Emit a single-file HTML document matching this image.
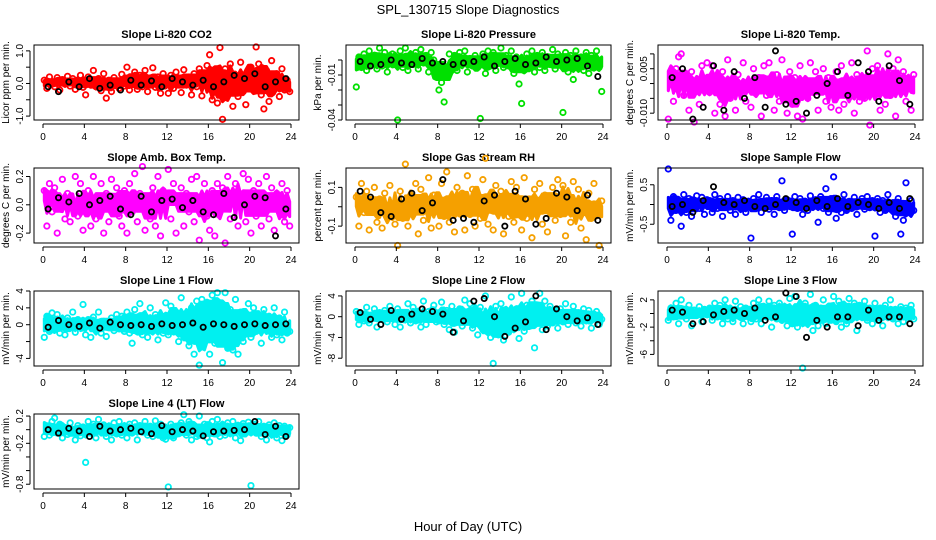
<!DOCTYPE html>
<html><head><meta charset="utf-8"><style>
body{margin:0;background:#fff;}
svg{display:block;font-family:"Liberation Sans",sans-serif;}
</style></head><body>
<svg id="chart" width="936" height="540" viewBox="0 0 936 540" xmlns="http://www.w3.org/2000/svg">
<rect width="936" height="540" fill="#fff"/>
<text x="468" y="14" text-anchor="middle" font-size="13">SPL_130715  Slope Diagnostics</text>
<text x="468" y="531" text-anchor="middle" font-size="13">Hour of Day (UTC)</text>
</svg>
<script>
const hourTicks = [0,4,8,12,16,20,24];
const titles = ["Slope Li-820 CO2","Slope Li-820 Pressure","Slope Li-820 Temp.","Slope Amb. Box Temp.","Slope Gas Stream RH","Slope Sample Flow","Slope Line 1 Flow","Slope Line 2 Flow","Slope Line 3 Flow","Slope Line 4 (LT) Flow"];
const yLabels = ["Licor ppm per min.","kPa per min.","degrees C per min.","degrees C per min.","percent per min.","mV/min per min.","mV/min per min.","mV/min per min.","mV/min per min.","mV/min per min."];
const colors = ["#ff0000","#00e000","#ff00ff","#ff00ff","#f5a000","#0000ff","#00f0f0","#00f0f0","#00f0f0","#00f0f0"];
const yMin = [-1.12,-0.04,-0.0123,-0.27,-0.187,-0.975,-4.9,-9.5,-7.7,-0.87];
const yMax = [1.18,0.01,0.013,0.26,0.2,0.925,4.0,4.95,3.3,0.23];
const scales = [0.01,0.001,0.0001,0.01,0.01,0.01,0.1,0.1,0.1,0.01];
const bandWidth = [0.2,0.2,0.15,0.12,0.15,0.2,0.2,0.2,0.2,0.2];
const yTickVals = [[-1,-0.5,0,0.5,1],[0,-0.01,-0.02,-0.03,-0.04],[0.01,0.005,0,-0.005,-0.01],[0.2,0,-0.2],[0.1,0,-0.1],[0.5,0,-0.5],[4,2,0,-2,-4],[4,0,-4,-8],[2,0,-2,-4,-6],[0.2,0,-0.2,-0.4,-0.6,-0.8]];
const yTickLabels = [["-1.0","","0.0","","1.0"],["","-0.01","","","-0.04"],["","0.005","","","-0.010"],["0.2","0.0","-0.2"],["0.1","","-0.1"],["0.5","","-0.5"],["4","2","0","","-4"],["4","0","-4","-8"],["2","","-2","","-6"],["0.2","","-0.2","","","-0.8"]];
const co2Values = [10,-15,20,5,-10,18,-20,12,0,22,-8,15,-18,8,25,-12,-35,20,-5,40,-10,15,-22,30,-45,10,-25,18,5,-15,28,-8,50,-20,12,35,-18,25,-10,40,-25,15,48,-12,20,-30,30,5,-30,25,-15,35,10,-28,42,-5,20,-35,30,-10,45,-38,15,55,88,-50,30,-60,110,-110,45,-30,60,-70,20,-40,65,-25,-65,30,50,-20,112,60,-35,-78,40,-55,70,-15,30,-40,45,-20,10,-25];
const co2Black = [-10,-25,5,-10,15,-15,-5,-20,10,-5,8,-10,15,5,-5,10,-10,5,25,15,30,-10,5,15];
const pressureValues = [-18,2,-5,4,-7,6,-2,3,-6,8,-4,5,-8,1,4,-3,-40,6,-5,8,-7,2,-3,5,-6,7,-2,3,-8,5,0,-4,-20,-15,-28,-10,4,-6,3,-7,5,-2,6,-8,1,-4,3,-5,-39,4,-9,6,-3,5,-7,2,8,-5,3,-4,6,-9,2,-16,-29,-6,4,-2,6,-8,3,-5,5,-7,2,-3,7,-6,4,-1,-35,5,-8,3,-13,6,-4,2,-7,5,-9,3,-2,6,-5,-21];
const pressureBlack = [-1,-4,-3,0,-2,-3,1,-2,-1,-3,-2,-1,2,-4,-1,1,-3,-2,2,-1,0,1,-4,-11];
const tempValues = [-120,30,-60,50,90,100,-40,20,-90,40,-130,10,-70,60,-20,70,-30,60,-100,20,-70,40,-110,80,-50,10,-90,30,-20,70,-60,0,-80,50,-30,20,-110,60,-40,70,-10,-90,30,-60,80,-20,-100,40,-70,20,-110,60,-120,10,-50,70,-30,40,-90,-10,50,-60,20,-80,-20,40,-90,60,-70,10,-40,70,-100,30,-60,20,-50,110,-140,50,-30,60,-90,20,-70,100,-40,50,-110,80,-20,40,-60,10,-90,30];
const tempBlack = [20,50,-120,-80,60,-90,40,-50,20,-80,110,-70,-60,-100,-40,0,40,-40,70,40,-60,60,10,-70];
const ambValues = [10,-15,15,-5,12,-20,5,18,-10,8,-12,0,20,-8,15,-18,-5,10,-15,20,-10,5,15,-20,8,-12,18,-5,12,-8,-15,10,-20,15,-5,22,-12,8,27,-18,5,-10,12,-15,20,-22,10,0,25,-10,15,-20,5,12,-15,8,-5,18,-12,20,-25,6,15,-8,-18,10,-22,15,-5,12,-27,20,-10,8,15,-15,5,22,-12,18,-20,10,-8,15,-15,5,20,-10,12,-18,8,-5,15,-12,10,-15];
const ambBlack = [-3,5,2,8,0,3,6,-3,-7,6,-5,3,4,-2,3,-5,-7,8,-9,0,6,5,-22,-3];
const rhValues = [5,-10,12,-3,8,-12,0,10,-8,4,-11,7,-5,11,-2,-9,-20,8,-6,22,-10,5,-3,12,-14,9,-7,3,15,-11,6,-1,-10,12,-5,18,-8,4,-13,10,-3,7,-12,16,-4,9,-10,2,-6,14,25,-9,5,-12,11,-2,8,-14,6,-5,13,-8,10,-3,-12,15,-6,4,-16,9,-2,12,-9,6,-13,3,10,-7,14,-4,11,-15,5,-8,13,-3,9,-11,2,-17,7,-6,12,-4,-20,3];
const rhBlack = [8,5,-3,-5,4,7,-2,2,14,-7,-6,-8,3,6,-10,8,4,-9,-6,7,5,-2,6,-7];
const sampleValues = [90,-40,20,-15,10,-55,25,-20,15,-30,5,22,-10,18,-25,12,10,-20,25,-10,15,-30,5,20,-15,10,-25,18,-5,12,-20,8,-85,15,-10,25,-20,5,18,-12,10,-25,20,-8,60,-15,12,-5,-75,20,-10,15,-25,8,-15,22,-5,12,-45,20,-10,40,-20,15,70,-35,10,-20,25,-15,8,-10,18,-25,5,15,-12,20,-8,10,-80,15,-20,10,-15,25,-10,5,-30,15,-75,-40,55,-20,10,-15];
const sampleBlack = [-5,0,-20,10,45,5,0,10,-5,-10,0,15,5,-10,10,-5,15,-5,5,0,-10,5,-10,15];
const line1Values = [-15,10,-8,14,-5,12,-10,3,-12,8,-4,15,-9,6,-2,24,-12,6,-15,9,-3,15,-10,4,-14,2,8,-7,12,-5,10,-8,15,-10,-22,18,-8,25,-12,6,-15,20,-5,12,-18,9,-10,26,-12,22,-8,15,-20,32,-15,10,-25,20,-35,28,-48,30,-18,25,-35,35,-22,38,12,-45,38,-28,18,-30,30,-35,15,-20,-10,25,-15,20,-8,12,-22,18,-5,10,-15,20,-12,8,-18,15,-10,-8];
const line1Black = [-3,5,0,-2,2,-4,3,0,-1,0,-2,1,-1,0,2,-3,1,0,-2,0,1,-1,0,1];
const line2Values = [10,-15,5,-8,18,-12,3,15,-20,8,-5,12,-10,20,-2,-15,15,-20,8,-5,25,-12,18,-8,5,-20,30,-15,10,-5,22,-10,-8,28,-15,12,-25,20,-30,8,15,-18,32,-10,25,-22,10,-35,18,-25,40,-10,-40,-90,20,-35,25,-45,10,-30,38,-20,15,-42,45,-28,22,-15,30,-60,10,45,-25,30,-18,20,-12,8,-22,15,-10,25,-15,5,20,-12,8,-18,15,-8,12,-22,5,10,-15,-5];
const line2Black = [8,-5,-15,12,-5,5,15,10,5,-30,-8,30,35,0,-38,-22,-10,40,-25,15,0,-8,-2,-15];
const line3Values = [-10,8,-5,15,-15,20,3,-8,12,-18,5,-3,10,-12,6,-2,8,-10,15,-5,12,-15,20,-8,5,-12,18,-3,10,-15,8,-5,-12,15,-8,20,-15,10,-5,18,-20,12,-8,15,-10,5,-18,22,-15,25,-20,10,-80,15,-10,28,-25,12,-18,8,20,-15,5,-10,25,-12,18,-20,10,-15,22,-8,15,-25,12,-5,18,-10,8,-15,15,-10,8,-18,12,-5,20,-8,5,-15,10,-12,8,-5,12,-8];
const line3Black = [5,2,-15,-12,-2,3,5,0,8,-10,-5,30,25,-35,-10,-20,-5,-5,-18,5,-10,-5,-5,-15];
const line4Values = [-10,5,-8,12,17,-5,8,-12,3,-7,10,-3,-15,6,-9,4,-48,12,-5,8,-12,15,-3,7,-10,5,-15,10,-6,12,-8,3,-12,8,-5,10,-15,6,-3,12,-8,5,-10,13,-6,8,-12,-14,-84,8,-12,5,-6,10,22,-8,12,-15,5,-10,20,-3,8,-12,-18,12,-6,15,-10,5,-8,10,-3,12,-12,6,-16,9,-5,11,-82,8,-5,12,-10,5,-15,7,-3,10,-12,6,-16,5,-8,3];
const line4Black = [0,-5,2,-2,-10,5,-2,0,2,-3,-6,6,-3,0,-2,-9,-3,-2,-1,0,12,-7,5,-10];

const seriesValues = [co2Values,pressureValues,tempValues,ambValues,rhValues,sampleValues,line1Values,line2Values,line3Values,line4Values];
const seriesBlack = [co2Black,pressureBlack,tempBlack,ambBlack,rhBlack,sampleBlack,line1Black,line2Black,line3Black,line4Black];
const panelNames = ["co2","pressure","licor-temp","amb-box-temp","gas-rh","sample-flow","line1-flow","line2-flow","line3-flow","line4-flow"];

const NS = "http://www.w3.org/2000/svg";
const svg = document.getElementById("chart");
function mk(tag, attrs, parent){
  const e = document.createElementNS(NS, tag);
  for (const k in attrs) e.setAttribute(k, attrs[k]);
  (parent||svg).appendChild(e);
  return e;
}
function quant(arr, q){
  const s = arr.slice().sort((a,b)=>a-b);
  const pos = (s.length-1)*q, lo = Math.floor(pos), hi = Math.ceil(pos);
  return s[lo] + (s[hi]-s[lo])*(pos-lo);
}

for (let p = 0; p < 10; p++) {
  const col = p % 3, row = Math.floor(p / 3);
  const L = 34 + 312*col, R = 299 + 312*col, T = 45 + 123*row, B = 120 + 123*row;
  const xs = h => L + 9 + (h/24)*248;
  const ys = v => B - (v - yMin[p])/(yMax[p]-yMin[p])*(B-T);
  const g = mk("g", {});
  
  

  const t = mk("text", {x:(L+R)/2, y:T-7, "text-anchor":"middle", "font-size":"11", "font-weight":"bold"}, g);
  t.textContent = titles[p];
  
  

  const yl = mk("text", {x:0, y:0, "text-anchor":"middle", "font-size":"10", transform:`translate(${L-25},${(T+B)/2}) rotate(-90)`}, g);
  yl.textContent = yLabels[p];
  
  

  const vals = seriesValues[p];
  const up = [], dn = [];
  const qa = 0.5 - bandWidth[p], qb = 0.5 + bandWidth[p];
  for (let i = 0; i < vals.length; i++) {
    const w = vals.slice(Math.max(0,i-4), Math.min(vals.length,i+5)).map(v=>v*scales[p]);
    const x = xs(i*0.25+0.125);
    up.push(x.toFixed(1)+","+ys(quant(w,qb)).toFixed(1));
    dn.push(x.toFixed(1)+","+ys(quant(w,qa)).toFixed(1));
  }
  const band = mk("polygon", {points: up.concat(dn.reverse()).join(" "), fill:colors[p], stroke:colors[p], "stroke-width":"3", "stroke-linejoin":"round"}, g);
  
  

  const pts = mk("g", {fill:"none", stroke:colors[p], "stroke-width":"1.8"}, g);
  
  
  vals.forEach((v, i) => {
    const c = mk("circle", {cx:xs(i*0.25+0.125), cy:ys(v*scales[p]), r:2.7}, pts);
    
    
  });
  const bpts = mk("g", {fill:"none", stroke:"#000", "stroke-width":"1.8"}, g);
  
  
  seriesBlack[p].forEach((v, i) => {
    const c = mk("circle", {cx:xs(i+0.5), cy:ys(v*scales[p]), r:2.6}, bpts);
    
    
  });

  const box = mk("rect", {x:L, y:T, width:R-L, height:B-T, fill:"none", stroke:"#000", "stroke-width":"1"}, g);
  
  

  const xa = mk("g", {}, g);
  
  
  mk("line", {x1:xs(0), x2:xs(24), y1:B+4, y2:B+4, stroke:"#000"}, xa);
  hourTicks.forEach(h => {
    mk("line", {x1:xs(h), x2:xs(h), y1:B+4, y2:B+8, stroke:"#000"}, xa);
    const tl = mk("text", {x:xs(h), y:B+20, "text-anchor":"middle", "font-size":"10"}, xa);
    tl.textContent = h;
    
    
  });
  const ya = mk("g", {}, g);
  
  
  const tv = yTickVals[p];
  mk("line", {x1:L-4, x2:L-4, y1:ys(Math.max(...tv)), y2:ys(Math.min(...tv)), stroke:"#000"}, ya);
  tv.forEach((v, i) => {
    const y = ys(v);
    mk("line", {x1:L-8, x2:L-4, y1:y, y2:y, stroke:"#000"}, ya);
    if (yTickLabels[p][i]) {
      const tl = mk("text", {x:0, y:0, "text-anchor":"middle", "font-size":"10", transform:`translate(${L-11},${y}) rotate(-90)`}, ya);
      tl.textContent = yTickLabels[p][i];
      
      
    }
  });
}
</script>
</body></html>
